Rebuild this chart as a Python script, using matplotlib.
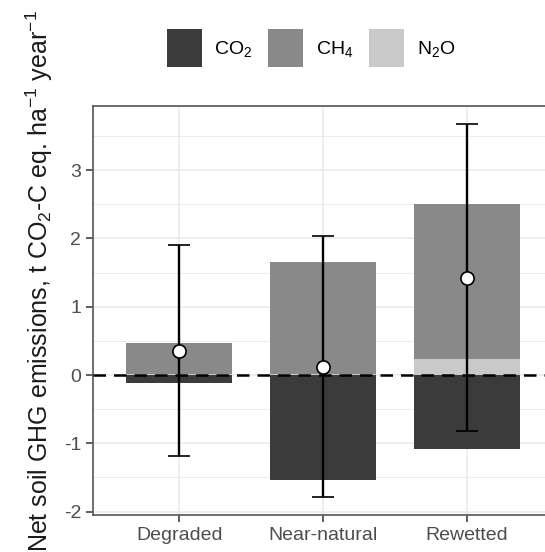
import matplotlib.pyplot as plt
import numpy as np
from matplotlib.patches import Patch

plt.rcParams["font.family"] = ["Liberation Sans", "DejaVu Sans"]
plt.rcParams["mathtext.fontset"] = "custom"
plt.rcParams["mathtext.rm"] = "Liberation Sans"
plt.rcParams["mathtext.it"] = "Liberation Sans"

# Data (t CO2-C eq. ha-1 year-1)
categories = ["Degraded", "Near-natural", "Rewetted"]
co2 = [-0.11, -1.54, -1.09]
ch4 = [0.45, 1.65, 2.26]
n2o = [0.02, 0.01, 0.24]
net_mean = [0.35, 0.12, 1.42]
ci_low = [-1.19, -1.78, -0.82]
ci_high = [1.90, 2.03, 3.67]
yticks = [-2, -1, 0, 1, 2, 3]

C_CO2 = "#3b3b3b"
C_CH4 = "#898989"
C_N2O = "#c9c9c9"
GRID = "#ebebeb"
TICK_TXT = "#4d4d4d"

fig = plt.figure(figsize=(5.45, 5.52), dpi=100, facecolor="white")
ax = fig.add_axes([93 / 545, 1 - 515 / 552, 460 / 545, 409 / 552])

x = np.arange(1, len(categories) + 1)
w = 0.74
ax.bar(x, co2, width=w, color=C_CO2, zorder=2)
ax.bar(x, n2o, width=w, color=C_N2O, zorder=2)
ax.bar(x, ch4, width=w, bottom=n2o, color=C_CH4, zorder=2)

# zero reference line
ax.axhline(0, color="black", lw=1.8, ls=(0, (5, 3.2)), zorder=3)

mean = np.array(net_mean)
yerr = [mean - np.array(ci_low), np.array(ci_high) - mean]
ax.errorbar(x, mean, yerr=yerr, fmt="o", color="black", ecolor="black",
            elinewidth=1.7, capsize=7.8, capthick=1.7, markersize=9.5,
            markerfacecolor="white", markeredgecolor="black",
            markeredgewidth=1.2, zorder=4)

ax.set_xlim(0.4, 3.6)
ax.set_ylim(-2.05, 3.94)
ax.set_xticks(x)
ax.set_xticklabels(categories)
ax.set_yticks(yticks)
ax.set_yticklabels([str(t) for t in yticks])
ax.set_yticks(np.arange(-1.5, 4, 1.0), minor=True)
ax.tick_params(axis="both", which="major", labelsize=14, colors="#333333",
               labelcolor=TICK_TXT, length=5, width=1.1)
ax.tick_params(axis="y", which="minor", length=0)

ax.grid(True, which="major", color=GRID, lw=1.2, zorder=0)
ax.grid(True, which="minor", axis="y", color=GRID, lw=0.7, zorder=0)
ax.set_axisbelow(True)
for s in ax.spines.values():
    s.set_color("#555555")
    s.set_linewidth(1.2)

fig.text(39 / 545, 1 - 281 / 552,
         r"Net soil GHG emissions, t CO$_2$-C eq. ha$^{-1}$ year$^{-1}$",
         rotation=90, ha="center", va="center", fontsize=18, color="#1a1a1a")

handles = [Patch(facecolor=C_CO2, label=r"CO$_2$"),
           Patch(facecolor=C_CH4, label=r"CH$_4$"),
           Patch(facecolor=C_N2O, label=r"N$_2$O")]
fig.legend(handles=handles, loc="center", bbox_to_anchor=(311 / 545, 1 - 48 / 552),
           ncol=3, frameon=False, fontsize=14, handlelength=1.8, handleheight=2.6,
           handletextpad=0.65, columnspacing=0.8)

plt.savefig("out.png", dpi=100, facecolor="white")
